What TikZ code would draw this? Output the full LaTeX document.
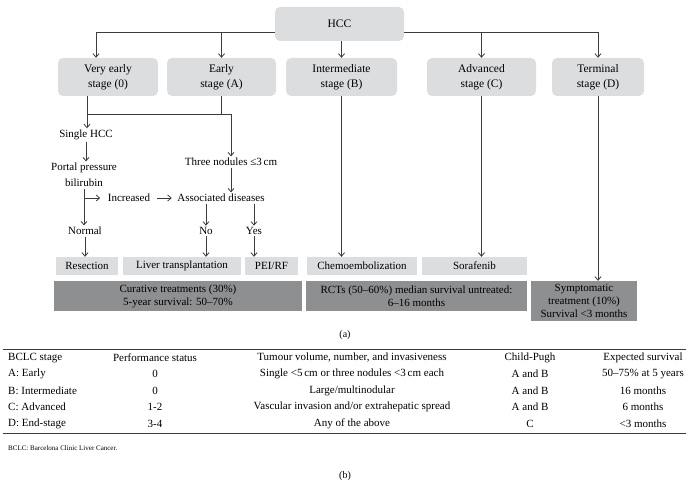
\documentclass[tikz,border=0pt]{standalone}
\usepackage{fontspec}
\setmainfont{Liberation Serif}
\usetikzlibrary{positioning, arrows.meta}
\definecolor{stagegray}{RGB}{220,221,223}
\definecolor{outcomegray}{RGB}{142,143,145}
\definecolor{linegray}{RGB}{60,60,60}

\begin{document}
\begin{tikzpicture}[x=1pt, y=-1pt,
    stagebox/.style={fill=stagegray, rounded corners=5pt, align=center, inner sep=0pt,
        font=\fontsize{11.5}{15}\selectfont},
    treatbox/.style={fill=stagegray, minimum height=18pt, inner sep=0pt,
        font=\fontsize{11}{14}\selectfont},
    outbox/.style={fill=outcomegray, align=center, inner sep=0pt,
        font=\fontsize{11}{13}\selectfont},
    txt/.style={inner sep=1.5pt, align=center, font=\fontsize{11}{16}\selectfont},
    arr/.style={draw=linegray, line width=0.8pt, -{Straight Barb[length=3.5pt,width=6pt]}},
    ln/.style={draw=linegray, line width=0.8pt},
    cell/.style={inner sep=0pt, font=\fontsize{11}{12}\selectfont}]
    \useasboundingbox (0,0) rectangle (696,497);

    % Stages
    \node[stagebox, minimum width=129pt, minimum height=34pt] (hcc) at (339.5,24) {HCC};
    \node[stagebox, minimum width=100pt, minimum height=38pt] (vearly) at (108,77) {Very early\\stage (0)};
    \node[stagebox, minimum width=109pt, minimum height=38pt] (early) at (221.5,77) {Early\\stage (A)};
    \node[stagebox, minimum width=111pt, minimum height=38pt] (inter) at (341.5,77) {Intermediate\\stage (B)};
    \node[stagebox, minimum width=109pt, minimum height=38pt] (adv) at (481.5,77) {Advanced\\stage (C)};
    \node[stagebox, minimum width=92pt, minimum height=38pt] (term) at (598,77) {Terminal\\stage (D)};

    % Branches from HCC
    \coordinate (hl) at ([yshift=-8pt]hcc.west);
    \coordinate (hr) at ([yshift=-8pt]hcc.east);
    \draw[arr] (hl) -| ([xshift=-12pt]vearly.north);
    \draw[arr] (early.north |- hl) -- (early.north);
    \draw[arr] (inter.north |- hcc.south) -- (inter.north);
    \draw[arr] (hr) -| (term.north);
    \draw[arr] (adv.north |- hr) -- (adv.north);

    % Decision texts
    \node[txt] (single) at (86,135) {Single HCC};
    \node[txt] (portal) at (84,175) {Portal pressure\\bilirubin};
    \node[txt] (incr) at (129,198) {Increased};
    \node[txt] (normal) at (85,231) {Normal};
    \node[txt] (three) at (231,162) {Three nodules ≤3\,cm};
    \node[txt] (assoc) at (221,198) {Associated diseases};
    \node[txt] (no) at (206,231) {No};
    \node[txt] (yes) at (254,231) {Yes};

    % Treatments
    \node[treatbox, minimum width=62pt] (resec) at (87,266) {Resection};
    \node[treatbox, minimum width=118pt] (liver) at (182,266) {Liver transplantation};
    \node[treatbox, minimum width=53pt] (pei) at (271.5,266) {PEI/RF};
    \node[treatbox, minimum width=110pt] (chemo) at (362,266) {Chemoembolization};
    \node[treatbox, minimum width=105pt] (sora) at (474.5,266) {Sorafenib};

    % Outcomes
    \node[outbox, minimum width=248pt, minimum height=30pt] (cur) at (178,296)
        {Curative treatments (30\%)\\5-year survival: 50--70\%};
    \node[outbox, minimum width=221pt, minimum height=30pt] (rct) at (416.5,296)
        {RCTs (50--60\%) median survival untreated:\\6--16 months};
    \node[outbox, minimum width=106pt, minimum height=40pt] (symp) at (584,301)
        {Symptomatic\\treatment (10\%)\\Survival <3 months};

    % Very early / early paths
    \draw[ln] ([xshift=-21pt]vearly.south) -- ++(0,18) coordinate (j1);
    \draw[ln] (early.south) -- (early.south |- j1);
    \draw[arr] (j1) -- (j1 |- single.north);
    \draw[arr] (j1) -| (three.north);
    \draw[arr] (single.south) -- (single.south |- portal.north);
    \draw[arr] (portal.south) -- (portal.south |- normal.north);
    \draw[arr] (portal.south |- incr) -- ([xshift=-6pt]incr.west);
    \draw[arr, shorten <=5pt, shorten >=4pt] (incr.east) -- (assoc.west);
    \draw[arr] (three.south) -- (three.south |- assoc.north);
    \draw[arr] (no.north |- assoc.south) -- (no.north);
    \draw[arr] (yes.north |- assoc.south) -- (yes.north);
    \draw[arr] (normal.south) -- (normal.south |- resec.north);
    \draw[arr] (no.south) -- (no.south |- liver.north);
    \draw[arr] (yes.south) -- (yes.south |- pei.north);

    % Other stages straight down
    \draw[arr] (inter.south) -- (inter.south |- chemo.north);
    \draw[arr] (adv.south) -- (adv.south |- sora.north);
    \draw[arr] (term.south) -- (term.south |- symp.north);

    \node[font=\fontsize{10}{12}\selectfont] (capa) at (345,335) {(a)};

    % Table
    \draw[ln, line width=0.7pt] (3,349) -- (686,349);
    \draw[ln, line width=0.7pt] (3,433) -- (686,433);
    \node[cell, anchor=west] (h1) at (8,358) {BCLC stage};
    \foreach \nm/\x/\t in {h2/155/Performance status, h3/352/{Tumour volume, number, and invasiveness},
        h4/530/Child-Pugh, h5/643/Expected survival}
        \node[cell] (\nm) at (\x,358) {\t};
    \foreach \r/\y/\a/\b/\c/\d/\e in {
        1/374/A: Early/0/{Single <5\,cm or three nodules <3\,cm each}/A and B/50--75\% at 5 years,
        2/391/B: Intermediate/0/{Large/multinodular}/A and B/16 months,
        3/407/C: Advanced/1-2/{Vascular invasion and/or extrahepatic spread}/A and B/6 months,
        4/424/D: End-stage/3-4/Any of the above/C/<3 months} {
        \node[cell, anchor=west] (r\r-1) at (8,\y) {\a};
        \node[cell] (r\r-2) at (155,\y) {\b};
        \node[cell] (r\r-3) at (352,\y) {\c};
        \node[cell] (r\r-4) at (530,\y) {\d};
        \node[cell] (r\r-5) at (643,\y) {\e};
    }
    \node[anchor=west, inner sep=0pt, font=\fontsize{7}{8}\selectfont] (note) at (8,448)
        {BCLC: Barcelona Clinic Liver Cancer.};
    \node[font=\fontsize{10}{12}\selectfont] (capb) at (345,476) {(b)};
\end{tikzpicture}
\end{document}
